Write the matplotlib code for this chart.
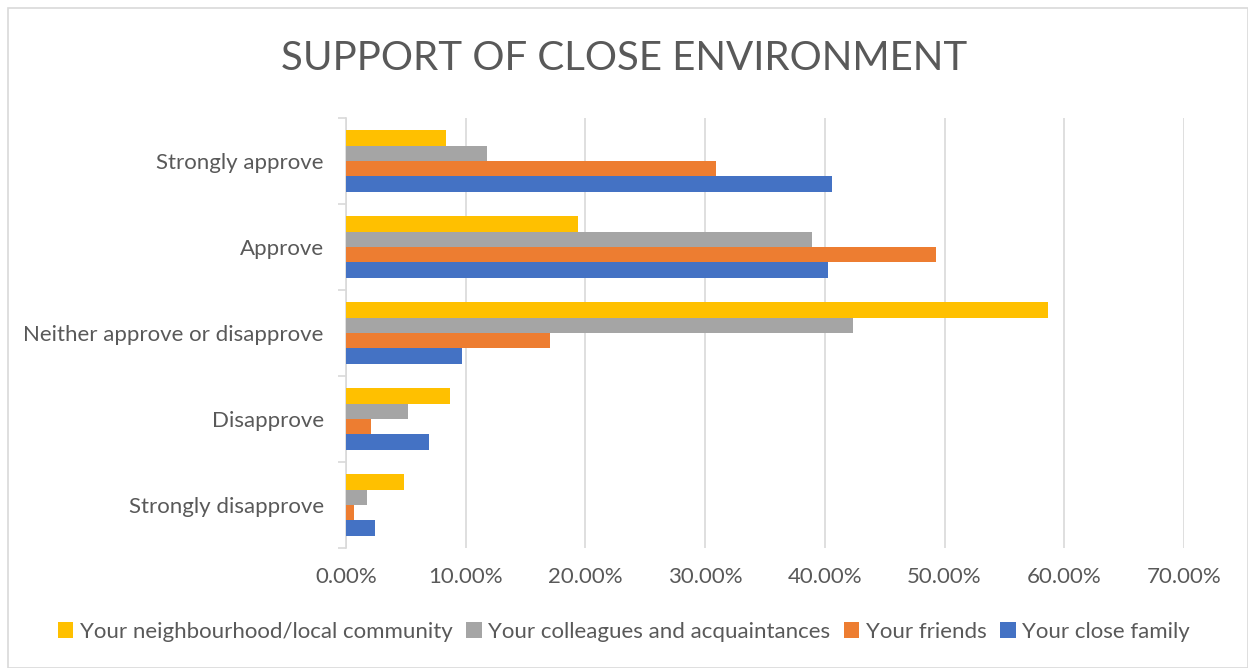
import numpy as np
import matplotlib.pyplot as plt
from matplotlib.patches import Rectangle
from matplotlib.ticker import FuncFormatter

plt.rcParams['font.family'] = ['Lato', 'DejaVu Sans']

# categories from bottom to top
categories = ['Strongly disapprove', 'Disapprove', 'Neither approve or disapprove',
              'Approve', 'Strongly approve']

# values in %, same order as categories
close_family = [2.41, 6.92, 9.73, 40.24, 40.6]
friends = [0.68, 2.05, 17.03, 49.25, 30.9]
colleagues = [1.74, 5.2, 42.34, 38.9, 11.81]
neighbourhood = [4.83, 8.67, 58.66, 19.4, 8.35]

series = [
    ('Your close family', close_family, '#4472C4'),
    ('Your friends', friends, '#ED7D31'),
    ('Your colleagues and acquaintances', colleagues, '#A5A5A5'),
    ('Your neighbourhood/local community', neighbourhood, '#FFC000'),
]

text_col = '#595959'
grid_col = '#D9D9D9'

fig = plt.figure(figsize=(12.48, 6.68), dpi=100)
ax = fig.add_axes([346 / 1248, 1 - 548 / 668, (1184 - 346) / 1248, (548 - 118) / 668])

y = np.arange(len(categories))
h = 0.18
handles = []
for i, (name, vals, col) in enumerate(series):
    b = ax.barh(y + (i - 1.5) * h, vals, height=h, color=col, label=name, zorder=3)
    handles.append(b)

ax.set_xlim(0, 70)
ax.set_ylim(-0.5, len(categories) - 0.5)
ax.set_xticks(np.arange(0, 71, 10))
ax.xaxis.set_major_formatter(FuncFormatter(lambda v, p: f'{v:.2f}%'))
ax.set_yticks(y)
ax.set_yticklabels(categories)
ax.set_yticks(np.arange(-0.5, len(categories)), minor=True)
ax.tick_params(axis='y', which='major', length=0, pad=16, labelsize=16, labelcolor=text_col)
ax.tick_params(axis='y', which='minor', length=6, color=grid_col, width=1.2)
ax.tick_params(axis='x', length=0, pad=14, labelsize=16, labelcolor=text_col)

ax.grid(axis='x', color=grid_col, linewidth=1.2, zorder=0)
for s in ['top', 'right', 'bottom']:
    ax.spines[s].set_visible(False)
ax.spines['left'].set_color(grid_col)
ax.spines['left'].set_linewidth(1.2)

fig.text(0.5, 1 - 58 / 668, 'SUPPORT OF CLOSE ENVIRONMENT', ha='center', va='center',
         fontsize=29, color=text_col)

fig.legend(handles[::-1], [s[0] for s in series][::-1], loc='center',
           bbox_to_anchor=(0.5, 1 - 632 / 668), ncol=4, frameon=False,
           fontsize=16, labelcolor=text_col, handlelength=0.7, handleheight=0.7,
           handletextpad=0.3, columnspacing=0.6)

fig.patches.append(Rectangle((8 / 1248, 0), 1 - 8 / 1248, 1 - 8 / 668, transform=fig.transFigure,
                             fill=False, edgecolor=grid_col, linewidth=1.2))

fig.savefig('out.png', dpi=100)
